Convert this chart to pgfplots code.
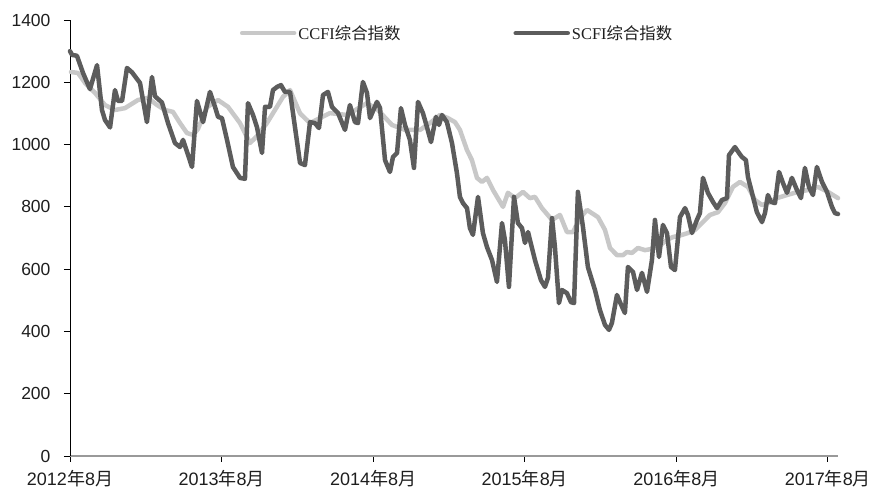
\documentclass[border=0pt]{standalone}
\usepackage{fontspec}
\setmainfont{Liberation Sans}
\newfontfamily\cjk{Noto Sans CJK SC}
\newfontfamily\legserif{Liberation Serif}
\usepackage{pgfplots}
\pgfplotsset{compat=1.18}
\definecolor{scfi}{RGB}{92,92,92}
\definecolor{ccfi}{RGB}{200,200,200}
\definecolor{txt}{RGB}{30,30,30}

\pgfplotstableread{
m v
0.08 1233
0.63 1230
1.19 1198
1.98 1166
2.77 1127
3.56 1111
4.35 1117
5.38 1143
6.17 1150
6.89 1127
7.52 1111
8.15 1105
8.71 1069
9.26 1037
9.74 1031
10.13 1050
10.85 1120
11.72 1143
12.51 1121
13.46 1069
14.25 1005
14.88 1030
15.59 1069
16.86 1153
17.42 1175
18.21 1100
19.00 1069
20.58 1101
21.93 1095
23.51 1133
24.38 1111
25.49 1063
26.52 1047
27.71 1047
28.50 1069
29.29 1095
29.92 1085
30.48 1072
30.87 1047
31.43 982
31.82 950
32.22 893
32.61 880
33.01 893
33.49 854
34.28 800
34.67 845
35.23 828
35.86 848
36.41 828
36.81 832
37.36 796
38.16 758
38.79 774
39.34 719
39.82 719
40.37 764
40.93 790
41.80 767
42.35 726
42.75 668
43.30 645
43.78 645
44.09 655
44.49 652
44.96 668
45.52 661
46.07 665
46.55 671
47.26 694
47.73 703
48.45 710
48.92 716
49.48 726
50.03 748
50.66 774
51.30 783
51.85 812
52.48 864
53.04 880
53.67 864
54.23 822
54.78 806
55.25 812
55.96 828
56.76 838
57.63 848
58.42 854
59.21 864
60.01 848
60.80 828
}\ccfidata

\pgfplotstableread{
m v
0 1300
0.16 1288
0.55 1285
1.03 1230
1.58 1178
2.14 1255
2.53 1111
2.77 1079
3.17 1055
3.56 1175
3.80 1140
4.12 1140
4.51 1246
4.91 1232
5.54 1198
6.09 1072
6.49 1217
6.73 1155
7.28 1135
7.76 1069
8.31 1005
8.71 992
8.95 1015
9.66 928
10.05 1140
10.53 1072
11.08 1169
11.48 1121
11.72 1089
12.03 1085
12.43 1015
12.90 928
13.46 893
13.85 890
14.09 1133
14.49 1095
14.80 1056
15.20 973
15.44 1121
15.83 1121
16.07 1175
16.39 1185
16.70 1191
17.02 1169
17.42 1169
17.81 1056
18.21 941
18.60 934
19.00 1072
19.39 1069
19.71 1053
20.03 1159
20.42 1169
20.74 1121
21.22 1101
21.77 1047
22.16 1127
22.56 1072
22.80 1069
23.19 1201
23.51 1166
23.75 1085
24.30 1137
24.54 1118
24.94 950
25.33 912
25.57 960
25.89 973
26.20 1117
26.52 1063
26.91 1015
27.23 925
27.55 1137
27.94 1101
28.26 1056
28.58 1008
28.97 1089
29.21 1063
29.45 1095
29.84 1072
30.24 1005
30.63 909
30.87 832
31.11 812
31.43 796
31.66 732
31.90 710
32.30 832
32.69 716
33.01 671
33.41 629
33.80 559
34.20 748
34.43 694
34.75 543
35.15 832
35.46 748
35.78 732
36.02 684
36.26 719
36.81 629
37.28 565
37.60 543
37.84 572
38.16 764
38.39 671
38.71 491
38.95 533
39.34 523
39.66 494
39.90 491
40.21 848
40.61 735
41.00 607
41.56 533
41.95 469
42.35 421
42.67 405
42.90 427
43.30 517
43.54 494
43.93 459
44.17 607
44.57 591
44.89 533
45.28 588
45.68 527
46.07 629
46.31 758
46.63 639
46.94 742
47.26 716
47.58 607
47.89 597
48.29 767
48.69 796
48.92 774
49.24 716
49.63 758
49.87 780
50.11 893
50.50 845
50.90 816
51.22 796
51.61 822
52.01 828
52.17 966
52.64 992
52.96 973
53.20 960
53.51 950
53.67 896
53.99 845
54.38 783
54.78 751
55.02 780
55.25 838
55.49 816
55.81 812
56.13 912
56.44 877
56.76 845
57.15 893
57.55 854
57.87 828
58.18 925
58.50 864
58.82 838
59.13 928
59.53 880
59.93 848
60.32 800
60.56 780
60.80 777
}\scfidata

\begin{document}
\begin{tikzpicture}[x=1pt,y=1pt]
\path[use as bounding box] (-70,-33) rectangle (803,456);
\begin{axis}[
  at={(0,0)}, anchor=south west,
  scale only axis, width=768pt, height=436pt,
  xmin=0, xmax=60.8, ymin=0, ymax=1400,
  clip=false,
  axis x line*=bottom, axis y line*=left,
  x axis line style={draw=gray!80, line width=1.6pt},
  y axis line style={draw=black, line width=0.8pt},
  xtick={0,12,24,36,48,60},
  xticklabels={2012{\cjk 年}8{\cjk 月},2013{\cjk 年}8{\cjk 月},2014{\cjk 年}8{\cjk 月},2015{\cjk 年}8{\cjk 月},2016{\cjk 年}8{\cjk 月},2017{\cjk 年}8{\cjk 月}},
  ytick={0,200,...,1400},
  tick align=outside,
  major tick length=6pt,
  tick style={black, line width=0.8pt},
  xticklabel style={font=\fontsize{18}{20}\selectfont, text=txt, yshift=-5pt},
  yticklabel style={font=\fontsize{17.5}{20}\selectfont, text=txt, xshift=-10pt},
  /pgf/number format/assume math mode=true,
  /pgf/number format/1000 sep={},
  legend style={at={(0.221,0.970)}, anchor=west, draw=none, fill=none,
    inner sep=0pt, font=\legserif\fontsize{16.4}{18}\selectfont, text=txt,
    /tikz/every even column/.append style={column sep=111pt}},
  legend columns=2,
  legend cell align=left,
  legend image code/.code={\draw[#1] (0pt,0pt) -- (52pt,0pt);},
]
\addplot[ccfi, line width=4.5pt, line join=round, line cap=round] table[x=m,y=v] {\ccfidata};
\addlegendentry{CCFI{\cjk 综合指数}}
\addplot[scfi, line width=4.5pt, line join=round, line cap=round] table[x=m,y=v] {\scfidata};
\addlegendentry{SCFI{\cjk 综合指数}}
\end{axis}
\end{tikzpicture}
\end{document}
